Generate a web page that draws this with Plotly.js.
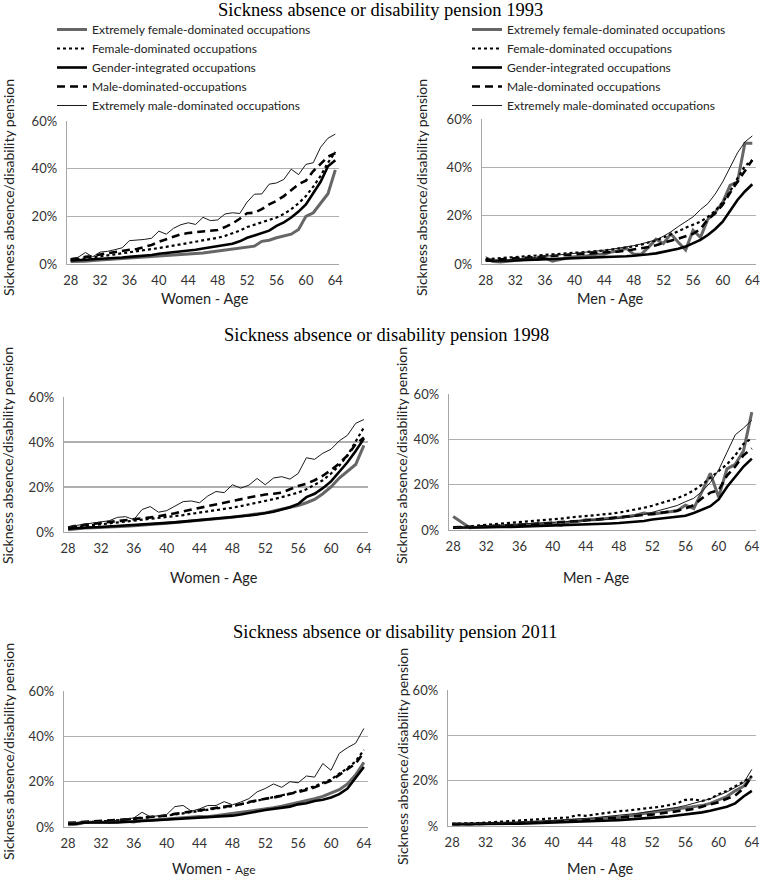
<!DOCTYPE html>
<html>
<head>
<meta charset="utf-8">
<script src="https://cdn.plot.ly/plotly-3.0.1.min.js"></script>
<style>html,body{margin:0;padding:0;background:#fff}#chart{width:760px;height:879px}</style>
</head>
<body>
<div id="chart"></div>
<script>
// ---------- DATA ----------
const ages = [28,29,30,31,32,33,34,35,36,37,38,39,40,41,42,43,44,45,46,47,48,49,50,51,52,53,54,55,56,57,58,59,60,61,62,63,64];
const yTickVals = [0, 20, 40, 60];
const yTickText = ['0%', '20%', '40%', '60%'];
const yTickTextBR = ['%', '20%', '40%', '60%'];
const xTickVals = [28, 32, 36, 40, 44, 48, 52, 56, 60, 64];

const namesLeft = ['Extremely female-dominated occupations','Female-dominated occupations','Gender-integrated occupations','Male-dominated-occupations','Extremely male-dominated occupations'];
const namesRight = ['Extremely female-dominated occupations','Female-dominated occupations','Gender-integrated occupations','Male-dominated occupations','Extremely male-dominated occupations'];

const yearTitles = ['Sickness absence or disability pension 1993','Sickness absence or disability pension 1998','Sickness absence or disability pension 2011'];
const yAxisTitle = 'Sickness absence/disability pension';
const xTitleWomen = 'Women - Age';
const xTitleMen = 'Men - Age';

// Women 1993
const w93_extFemale = [1.0,1.0,1.2,1.5,1.7,1.8,2.0,2.2,2.4,2.6,2.8,3.0,3.2,3.4,3.6,3.8,4.0,4.3,4.6,5.0,5.4,5.8,6.2,6.5,7.0,7.5,9.5,10.0,11.0,11.8,12.5,14.5,20.0,21.5,25.5,29.5,39.5];
const w93_female    = [1.5,2.0,2.3,2.8,3.2,3.6,4.0,4.5,5.0,5.4,5.8,6.2,6.7,7.2,7.7,8.2,8.7,9.2,9.8,10.4,11.0,11.8,12.8,14.0,15.5,16.5,17.5,18.5,19.5,21.0,23.0,25.5,28.5,32.5,37.0,42.5,47.0];
const w93_integr    = [1.5,1.5,1.8,2.0,2.1,2.3,2.5,2.7,3.0,3.2,3.5,3.8,4.3,4.6,5.0,5.3,5.6,6.0,6.5,7.0,7.4,7.8,8.5,9.5,11.0,12.0,13.0,14.0,16.0,17.5,19.5,22.0,25.0,29.5,34.5,41.0,43.5];
const w93_male      = [2.0,2.3,3.0,3.3,4.0,4.5,5.0,5.7,6.0,6.3,7.0,8.0,9.3,10.3,11.5,12.5,13.0,13.3,13.6,14.0,14.3,15.5,17.0,19.0,21.3,21.5,23.0,25.0,26.5,28.5,31.0,33.5,35.0,39.0,42.0,45.0,46.5];
const w93_extMale   = [2.3,2.8,4.8,3.0,5.0,5.3,6.0,6.8,9.8,10.0,10.3,10.8,13.8,12.5,15.0,16.5,17.3,16.6,19.6,18.2,18.5,21.0,21.5,21.2,26.0,29.3,29.4,33.5,34.0,35.5,39.8,37.5,41.8,42.5,49.0,52.8,54.5];

// Men 1993
const m93_extFemale = [2.0,1.0,0.8,1.2,1.5,2.0,2.2,2.0,2.5,1.2,2.0,2.5,3.0,3.0,3.5,4.0,4.0,5.0,5.5,6.5,4.0,4.0,7.0,10.3,8.5,12.5,9.0,5.8,14.0,11.0,18.5,21.5,25.5,32.5,34.0,50.0,50.0];
const m93_female    = [2.0,2.2,2.5,2.8,3.0,3.2,3.4,3.6,3.8,4.0,4.2,4.4,4.6,4.8,5.0,5.3,5.6,6.0,6.4,6.8,7.3,8.0,8.8,9.8,11.0,12.2,13.5,15.0,16.3,17.5,19.5,22.0,25.5,30.0,35.5,40.5,43.0];
const m93_integr    = [1.5,1.3,1.3,1.4,1.5,1.6,1.7,1.8,1.9,2.0,2.1,2.2,2.3,2.4,2.5,2.6,2.7,2.8,3.0,3.2,3.4,3.6,4.0,4.4,5.0,5.6,6.3,7.2,8.5,10.0,12.0,14.5,17.5,22.0,26.5,30.0,33.0];
const m93_male      = [1.5,1.8,2.0,2.2,2.4,2.5,2.7,2.9,3.0,3.2,3.4,3.5,3.7,3.9,4.1,4.3,4.6,4.9,5.2,5.6,6.0,6.4,7.0,7.8,8.6,9.6,10.5,11.5,12.5,14.5,18.5,21.0,24.5,29.5,34.0,39.0,43.0];
const m93_extMale   = [3.0,1.5,1.0,1.5,2.0,2.3,2.5,2.8,3.0,3.3,3.6,4.0,4.3,4.6,5.0,5.3,5.7,6.1,6.5,7.0,7.6,8.3,9.0,10.0,11.5,13.3,15.5,17.5,19.5,22.5,25.0,29.0,34.0,40.0,46.0,50.5,53.0];

// Women 1998
const w98_extFemale = [1.0,1.5,1.8,1.9,2.0,2.2,2.4,2.6,2.8,3.0,3.3,3.6,3.9,4.2,4.5,4.8,5.0,5.4,5.8,6.2,6.6,7.0,7.4,7.9,8.5,9.3,10.2,10.8,11.8,13.0,14.5,17.0,20.0,24.0,27.0,30.0,38.5];
const w98_female    = [1.8,2.3,2.7,3.1,3.4,3.8,4.2,4.5,4.9,5.3,5.7,6.0,6.5,7.0,7.5,8.1,8.6,9.2,9.8,10.3,10.8,11.5,12.2,13.0,13.8,14.6,15.5,16.5,17.5,19.0,21.0,23.0,26.0,29.5,34.0,40.0,46.5];
const w98_integr    = [1.5,1.8,2.0,2.1,2.2,2.4,2.6,2.8,3.0,3.2,3.4,3.7,4.0,4.3,4.6,4.9,5.2,5.5,5.8,6.1,6.5,6.9,7.3,7.8,8.4,9.0,10.0,11.0,12.5,15.5,17.0,19.5,22.5,26.5,31.0,36.0,41.5];
const w98_male      = [2.0,2.8,3.2,3.6,3.9,4.2,4.6,5.0,5.5,6.0,6.5,7.0,7.5,8.3,9.2,10.0,10.7,11.5,12.3,13.0,13.8,14.5,15.3,16.0,16.7,17.0,17.5,19.0,20.5,21.5,23.0,25.0,27.5,30.5,34.0,39.0,42.0];
const w98_extMale   = [2.3,3.0,3.5,4.0,4.5,5.0,6.5,6.8,5.5,10.0,11.3,8.8,9.5,11.5,13.5,13.8,13.0,16.0,18.0,17.5,21.0,19.5,20.8,23.8,21.0,24.0,24.6,23.5,26.0,33.0,32.3,35.0,36.8,40.5,43.0,48.3,50.0];

// Men 1998
const m98_extFemale = [6.0,3.5,1.0,1.2,1.3,1.5,1.7,2.0,2.2,2.5,2.5,3.0,3.0,2.0,3.5,3.8,4.5,4.5,4.8,5.0,5.5,6.0,6.5,7.5,7.0,7.5,8.0,8.5,11.0,9.5,17.0,25.0,14.5,27.0,29.0,35.0,52.0];
const m98_female    = [1.0,1.3,1.5,1.8,2.0,2.3,2.6,2.9,3.2,3.5,3.8,4.1,4.5,5.0,5.5,5.8,6.0,6.3,6.7,7.2,7.7,8.3,9.0,9.8,10.7,11.7,12.8,14.0,15.5,17.5,20.0,23.0,26.0,29.0,33.0,38.0,40.5];
const m98_integr    = [1.0,1.0,1.0,1.0,1.1,1.2,1.3,1.4,1.5,1.6,1.7,1.8,1.9,2.0,2.1,2.2,2.3,2.5,2.7,2.9,3.1,3.3,3.6,4.0,4.6,5.0,5.6,6.0,6.3,7.5,9.0,10.5,13.5,19.0,23.5,28.0,31.5];
const m98_male      = [1.2,1.3,1.4,1.5,1.6,1.7,1.9,2.1,2.3,2.5,2.7,2.9,3.1,3.3,3.6,3.9,4.2,4.5,4.8,5.1,5.5,5.9,6.3,6.7,7.1,7.5,8.0,8.5,9.5,11.0,14.0,16.5,17.5,24.0,28.0,33.0,36.0];
const m98_extMale   = [1.0,1.2,1.3,1.4,1.6,1.8,2.0,2.2,2.4,2.6,2.8,3.0,3.2,3.4,3.6,3.8,4.0,4.3,4.5,4.8,5.2,5.6,6.0,6.8,7.8,8.8,9.8,10.8,12.5,14.0,17.0,21.0,26.5,34.5,42.0,45.0,48.5];

// Women 2011
const w11_extFemale = [1.0,1.2,2.0,2.2,2.2,2.0,2.3,2.5,2.2,3.0,3.0,3.3,3.6,3.8,4.0,4.3,4.6,4.5,5.0,5.5,5.8,6.2,6.8,7.5,8.0,8.5,9.2,10.0,11.0,11.5,12.5,13.5,15.0,16.5,19.0,23.0,28.5];
const w11_female    = [1.5,1.8,2.2,2.4,2.5,2.7,3.0,3.2,3.5,4.0,4.3,4.6,5.0,5.5,6.0,6.5,7.0,7.5,8.0,8.5,9.2,10.0,10.8,11.5,12.3,13.0,13.8,14.8,15.8,16.8,18.0,19.5,21.0,23.5,26.0,29.0,34.0];
const w11_integr    = [1.5,1.5,2.0,2.0,2.0,1.8,2.0,2.2,2.4,2.6,2.8,3.0,3.2,3.4,3.6,3.8,4.0,4.2,4.5,4.8,5.0,5.5,6.0,6.8,7.5,8.0,8.5,9.0,10.0,10.5,11.5,12.0,13.0,14.5,17.0,21.5,26.5];
const w11_male      = [1.8,2.0,2.3,2.5,2.5,2.8,3.0,3.3,3.6,4.2,4.5,4.8,5.0,5.8,6.3,6.8,7.2,7.8,8.3,8.8,9.3,10.0,11.0,11.8,12.5,13.0,13.8,14.5,15.5,16.3,17.5,19.0,20.5,23.0,25.5,28.0,33.0];
const w11_extMale   = [2.0,2.0,2.5,2.5,2.5,2.3,3.0,3.5,4.0,6.5,4.5,5.0,5.5,9.0,9.5,7.0,8.0,9.5,9.5,11.2,9.8,11.0,12.5,15.5,17.0,19.0,17.5,20.0,19.5,22.5,22.0,28.0,25.0,32.5,35.0,37.0,43.5];

// Men 2011
const m11_extFemale = [1.0,0.8,0.8,1.0,1.0,1.0,1.2,1.3,1.4,1.5,1.6,1.8,2.0,2.2,2.4,2.5,2.7,3.0,3.3,3.8,3.8,4.2,4.8,5.5,6.0,6.5,7.0,7.2,8.0,8.5,9.0,10.0,11.5,13.0,15.5,17.5,22.0];
const m11_female    = [1.0,1.0,1.2,1.3,1.5,1.7,2.0,2.2,2.4,2.6,2.8,3.0,3.3,3.5,3.8,4.8,4.5,5.0,5.5,6.3,6.5,6.8,7.2,7.5,8.0,8.5,9.2,10.0,11.5,11.8,11.0,12.0,14.0,15.5,17.5,19.5,22.0];
const m11_integr    = [0.8,0.8,0.7,0.7,0.8,0.8,0.9,1.0,1.0,1.1,1.2,1.3,1.4,1.5,1.6,1.7,1.8,2.0,2.2,2.4,2.6,2.8,3.0,3.3,3.6,3.9,4.2,4.6,5.0,5.5,6.0,6.7,7.5,8.5,10.0,13.0,15.5];
const m11_male      = [0.8,0.8,0.8,0.9,1.0,1.0,1.1,1.2,1.3,1.4,1.5,1.6,1.8,2.0,2.2,2.3,2.5,2.8,3.0,3.3,3.5,3.8,4.2,4.6,5.0,5.5,6.0,6.5,7.0,7.5,8.5,9.5,10.5,12.0,13.5,16.5,22.0];
const m11_extMale   = [1.0,1.0,1.0,1.0,1.0,1.2,1.3,1.5,1.6,1.8,2.0,2.2,2.4,2.6,2.8,3.0,3.3,3.6,4.0,4.3,4.6,5.0,5.5,6.0,6.5,7.0,7.5,8.2,9.0,10.0,11.0,12.0,13.5,15.0,17.0,19.0,25.0];

// ---------- STYLES / LAYOUT ----------
const W = 760, H = 879;
const seriesStyles = [
  {color:'#666666', width:3},
  {color:'#000000', width:2.2, dash:'dot'},
  {color:'#000000', width:2.6},
  {color:'#000000', width:2.6, dash:'8px,5px'},
  {color:'#1a1a1a', width:1}
];
// panel boxes in pixels: left, right, top(60%), bottom(0%)
const panels = [
  {l:67, r:339, t:121, b:264, data:[w93_extFemale,w93_female,w93_integr,w93_male,w93_extMale], names:namesLeft, legend:'legend', xt:xTitleWomen},
  {l:482, r:756, t:119, b:264, data:[m93_extFemale,m93_female,m93_integr,m93_male,m93_extMale], names:namesRight, legend:'legend2', xt:xTitleMen},
  {l:64, r:368, t:397, b:532, data:[w98_extFemale,w98_female,w98_integr,w98_male,w98_extMale], names:namesLeft, xt:xTitleWomen},
  {l:449, r:756, t:394, b:530, data:[m98_extFemale,m98_female,m98_integr,m98_male,m98_extMale], names:namesRight, xt:xTitleMen},
  {l:64, r:368, t:691, b:827, data:[w11_extFemale,w11_female,w11_integr,w11_male,w11_extMale], names:namesLeft, xt:'Women - <span style="font-size:12px">Age</span>'},
  {l:448, r:756, t:690, b:826, data:[m11_extFemale,m11_female,m11_integr,m11_male,m11_extMale], names:namesRight, xt:xTitleMen}
];

const traces = [];
const layout = {
  width: W, height: H,
  margin: {l:0, r:0, t:0, b:0},
  paper_bgcolor: '#ffffff', plot_bgcolor: '#ffffff',
  font: {family:'Lato, "Open Sans", sans-serif', color:'#222'},
  showlegend: true,
  annotations: []
};
const tickFont = {family:'Lato, sans-serif', size:13, color:'#333'};
const px = v => v / W;
const py = v => 1 - v / H;

panels.forEach((p, i) => {
  const n = i + 1;
  const sfx = n === 1 ? '' : String(n);
  layout['xaxis' + sfx] = {
    domain: [px(p.l), px(p.r)], anchor: 'y' + sfx,
    range: [27.5, 64.5], tickmode: 'array', tickvals: xTickVals, ticks: '',
    showgrid: false, zeroline: false, showline: true, linecolor: '#a6a6a6', linewidth: 1.3,
    tickfont: tickFont, ticklabelstandoff: 4, ticklabeloverflow: 'allow', fixedrange: true
  };
  layout['yaxis' + sfx] = {
    domain: [py(p.b), py(p.t)], anchor: 'x' + sfx,
    range: [0, 60.01], tickmode: 'array', tickvals: yTickVals,
    ticktext: n === 6 ? yTickTextBR : yTickText, ticks: '',
    showgrid: true, gridcolor: '#b0b0b0', gridwidth: 1.3, zeroline: false,
    showline: true, linecolor: '#a6a6a6', linewidth: 1.3,
    tickfont: tickFont, ticklabelstandoff: 6, fixedrange: true
  };
  p.data.forEach((vals, s) => {
    traces.push({
      type: 'scatter', mode: 'lines', x: ages, y: vals,
      xaxis: 'x' + sfx, yaxis: 'y' + sfx,
      name: p.names[s], line: Object.assign({}, seriesStyles[s]),
      showlegend: !!p.legend, legend: p.legend || 'legend',
      hoverinfo: 'skip'
    });
  });
});

const legendBase = {
  xanchor: 'left', yanchor: 'top', bgcolor: 'rgba(0,0,0,0)', borderwidth: 0,
  font: {family:'Lato, sans-serif', size:12, color:'#222'}, tracegroupgap: 0, itemwidth: 30,
  traceorder: 'normal'
};
layout.legend = Object.assign({}, legendBase, {x: px(52), y: py(15)});
layout.legend2 = Object.assign({}, legendBase, {x: px(467), y: py(15)});

// year titles
const titleFont = {family:'"Liberation Serif", "Times New Roman", serif', size:18.5, color:'#000'};
[[380, 10], [386, 335], [395, 632]].forEach((pos, k) => {
  layout.annotations.push({text: yearTitles[k], xref:'paper', yref:'paper', x: px(pos[0]), y: py(pos[1]),
    xanchor:'center', yanchor:'middle', showarrow:false, font: titleFont});
});
// y axis titles
const axFont = {family:'Lato, sans-serif', size:14, color:'#222'};
[[8, 188], [421, 188], [8, 456], [402, 456], [8, 752], [402, 757]].forEach(pos => {
  layout.annotations.push({text: yAxisTitle, textangle: -90, xref:'paper', yref:'paper', x: px(pos[0]), y: py(pos[1]),
    xanchor:'center', yanchor:'middle', showarrow:false, font: axFont});
});
// x axis titles
[[205, 298, 'middle'], [610, 298, 'middle'], [214, 577, 'middle'], [596, 577, 'middle'], [214, 879, 'bottom'], [600, 879, 'bottom']].forEach((pos, k) => {
  layout.annotations.push({text: panels[k].xt, xref:'paper', yref:'paper', x: px(pos[0]), y: py(pos[1]),
    xanchor:'center', yanchor: pos[2], showarrow:false, font: Object.assign({}, axFont, {size:14.5})});
});

Plotly.newPlot('chart', traces, layout, {staticPlot: true, displayModeBar: false});
</script>
</body>
</html>
